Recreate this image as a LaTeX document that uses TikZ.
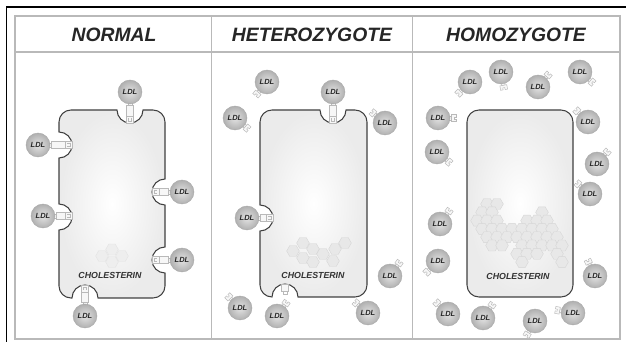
\documentclass[tikz,border=0pt]{standalone}
\usepackage{fontspec}
\newfontfamily\lab{Liberation Sans}
\usetikzlibrary{shapes.geometric}

\tikzset{
  ldlball/.style={circle, minimum size=18pt, inner sep=0pt, shade,
    inner color=gray!22, outer color=gray!62, draw=gray!68, line width=0.3pt,
    font=\lab\bfseries\itshape\fontsize{5.6}{6}\selectfont, text=black!85},
  tailpart/.style={fill=gray!6, draw=gray!55, line width=0.35pt},
  hexcell/.style={regular polygon, regular polygon sides=6, minimum size=9.5pt,
    inner sep=0pt, fill=gray!18, draw=gray!32, line width=0.3pt},
  membrane/.style={draw=black!75, line width=0.8pt, inner color=white, outer color=gray!16},
  header/.style={font=\lab\bfseries\itshape\fontsize{14.5}{16}\selectfont, text=black!85},
  chol/.style={font=\lab\bfseries\itshape\fontsize{6.6}{8}\selectfont, text=black!80},
  frameline/.style={draw=gray!55, line width=1pt},
  outerline/.style={draw=black, line width=1.1pt},
}

% free LDL particle: name, x, y, direction of its apoB tail
\newcommand\ldl[4]{%
  \begin{scope}[shift={(#2,#3)}, rotate=#4]
    \draw[tailpart] (10,-1.8) rectangle (13.5,1.8);
    \draw[tailpart] (13.5,-3.5) -- (18,-3.5) -- (18,-1) -- (16,-1) -- (16,1)
      -- (18,1) -- (18,3.5) -- (13.5,3.5) -- cycle;
  \end{scope}
  \node[ldlball] (#1) at (#2,#3) {LDL};}

% LDL particle bound to a receptor: name, x, y, direction, distance to pit floor
\newcommand\ldldock[5]{%
  \begin{scope}[shift={(#2,#3)}, rotate=#4]
    \draw[tailpart] (10,-1.8) rectangle (13.5,1.8);
    \draw[tailpart] (13.5,-3.5) rectangle ({#5-7},3.5);
    \draw[tailpart] ({#5-7},-3.5) rectangle (#5,3.5);
    \draw[gray!55, line width=0.35pt] ({#5-5},-1.5) -- ({#5-2},-1.5) -- ({#5-2},1.5) -- ({#5-5},1.5);
  \end{scope}
  \node[ldlball] (#1) at (#2,#3) {LDL};}

\begin{document}
\begin{tikzpicture}[x=0.75pt, y=-0.75pt]
\useasboundingbox (0,0) rectangle (626,342);

% outer frame
\draw[outerline] (6.5,342) -- (6.5,7) -- (626,7);
\draw[frameline] (15,16) rectangle (620,339);
\draw[frameline] (15,52) -- (620,52);
\draw[frameline] (211.5,16) -- (211.5,339);
\draw[frameline] (412.5,16) -- (412.5,339);

% column headings
\node[header] (tN) at (114,35) {NORMAL};
\node[header] (tHe) at (312,35) {HETEROZYGOTE};
\node[header] (tHo) at (516,35) {HOMOZYGOTE};

% ---------- normal cell ----------
\shadedraw[membrane] (71,110) -- (117,110) arc[start angle=180,end angle=0,radius=13]
  -- (153,110) arc[start angle=-90,end angle=0,radius=12]
  -- (165,179) arc[start angle=-90,end angle=-270,radius=13]
  -- (165,247) arc[start angle=-90,end angle=-270,radius=13]
  -- (165,286) arc[start angle=0,end angle=90,radius=12]
  -- (98,298) arc[start angle=0,end angle=-180,radius=13]
  -- (71,298) arc[start angle=90,end angle=180,radius=12]
  -- (59,230) arc[start angle=90,end angle=-90,radius=13]
  -- (59,158) arc[start angle=90,end angle=-90,radius=13]
  -- (59,122) arc[start angle=180,end angle=270,radius=12] -- cycle;

\foreach \i/\x/\y in {1/102/256, 2/112/249.5, 3/112/262, 4/122/256}
  \node[hexcell, fill=gray!13, draw=gray!22] (hn\i) at (\x,\y) {};
\node[chol] (cN) at (110,275) {CHOLESTERIN};

\ldldock{n1}{130}{92}{270}{31}
\ldldock{n2}{38}{145}{0}{34}
\ldldock{n3}{43}{216}{0}{29}
\ldldock{n4}{182}{192}{180}{30}
\ldldock{n5}{182}{260}{180}{30}
\ldldock{n6}{85}{316}{90}{31}

% ---------- heterozygous cell ----------
\shadedraw[membrane] (272,110) -- (320,110) arc[start angle=180,end angle=0,radius=13]
  -- (355,110) arc[start angle=-90,end angle=0,radius=12]
  -- (367,285) arc[start angle=0,end angle=90,radius=12]
  -- (298,297) arc[start angle=0,end angle=-180,radius=13]
  -- (272,297) arc[start angle=90,end angle=180,radius=12]
  -- (260,231) arc[start angle=90,end angle=-90,radius=13]
  -- (260,122) arc[start angle=180,end angle=270,radius=12] -- cycle;

\foreach \i/\x/\y in {1/293/251, 2/303/243, 3/313/249, 4/303/258, 5/313/262,
    6/323/254, 7/333/261, 8/335/249, 9/345/243}
  \node[hexcell] (hh\i) at (\x,\y) {};
\node[chol] (cHe) at (313,275) {CHOLESTERIN};

% empty receptor in the lower pit
\draw[tailpart] (281.5,284) rectangle (288.5,291);
\draw[gray!55, line width=0.35pt] (283,291) -- (283,294) -- (287,294) -- (287,291);

\ldldock{h1}{333}{92}{270}{31}
\ldldock{h2}{247}{218}{0}{26}
\ldl{h3}{267}{82}{230}
\ldl{h4}{235}{118}{320}
\ldl{h5}{385}{123}{140}
\ldl{h6}{240}{308}{135}
\ldl{h7}{277}{316}{55}
\ldl{h8}{390}{276}{55}
\ldl{h9}{368}{313}{140}

% ---------- homozygous cell ----------
\shadedraw[membrane, rounded corners=9pt] (467,110) rectangle (573,297);

\foreach \k/\js in {0/{1,2}, 1/{0,1,6}, 2/{0,1,2,5,6,7}, 3/{0,1,2,3,4,5,6,7},
    4/{1,2,3,4,5,6,7,8}, 5/{1,2,4,5,6,7,8}, 6/{4,5,6,8}, 7/{4,8}}
  \foreach \j in \js
    \node[hexcell] (ho-\k-\j) at ({477+10*\j+5*mod(\k,2)}, {204+8.3*\k}) {};
\node[chol] (cHo) at (518,276) {CHOLESTERIN};

\ldl{o1}{470}{82}{225}
\ldl{o2}{501}{72}{280}
\ldl{o3}{538}{87}{50}
\ldl{o4}{580}{72}{320}
\ldl{o5}{438}{118}{0}
\ldl{o6}{588}{122}{135}
\ldl{o7}{437}{152}{320}
\ldl{o8}{597}{164}{50}
\ldl{o9}{590}{194}{140}
\ldl{o10}{440}{224}{55}
\ldl{o11}{438}{261}{225}
\ldl{o12}{595}{276}{115}
\ldl{o13}{448}{314}{135}
\ldl{o14}{483}{318}{55}
\ldl{o15}{535}{321}{240}
\ldl{o16}{573}{313}{170}

\end{tikzpicture}
\end{document}
